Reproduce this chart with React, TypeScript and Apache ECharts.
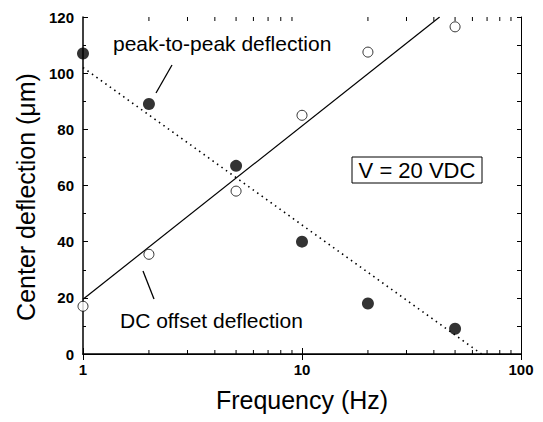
import React, { useEffect, useRef } from "react";
import * as echarts from "echarts";

const freqs = [1, 2, 5, 10, 20, 50];
const peakToPeak = [107, 89, 67, 40, 18, 9];
const dcOffset = [17, 35.5, 58, 85, 107.5, 116.5];
const peakFit = [[1, 102], [66, 0]];
const dcFit = [[1, 19.5], [42.5, 120]];
const minorFreqs = [2, 3, 4, 5, 6, 7, 8, 9, 20, 30, 40, 50, 60, 70, 80, 90];
const xTickLabels = ["1", "10", "100"];

const FONT = "'Liberation Sans', Arial, Helvetica, sans-serif";

export default function App() {
  const ref = useRef<HTMLDivElement>(null);
  useEffect(() => {
    if (!ref.current) return;
    const chart = echarts.init(ref.current, null, { renderer: "svg" });
    const option: any = {
      animation: false,
      backgroundColor: "#fff",
      grid: { left: 83, right: 22, top: 17, bottom: 68 },
      xAxis: [
        {
          type: "log",
          logBase: 10,
          min: 1,
          max: 100,
          position: "bottom",
          name: "Frequency (Hz)",
          nameLocation: "middle",
          nameGap: 33,
          nameTextStyle: { fontFamily: FONT, fontSize: 25, color: "#000" },
          axisLine: { lineStyle: { color: "#000", width: 1.5 } },
          axisTick: { inside: true, length: 6, lineStyle: { color: "#000" } },
          axisLabel: {
            fontFamily: FONT,
            fontSize: 15,
            fontWeight: "bold",
            color: "#000",
            margin: 8,
            formatter: (v: number) => {
              const i = Math.round(Math.log10(v));
              return xTickLabels[i] ?? "";
            },
          },
          splitLine: { show: false },
        },
        {
          type: "log",
          logBase: 10,
          min: 1,
          max: 100,
          position: "top",
          axisLine: { lineStyle: { color: "#000", width: 1 } },
          axisTick: { inside: true, length: 6, lineStyle: { color: "#000" } },
          axisLabel: { show: false },
          splitLine: { show: false },
        },
      ],
      yAxis: [
        {
          type: "value",
          min: 0,
          max: 120,
          interval: 20,
          position: "left",
          axisLine: { show: true, lineStyle: { color: "#000", width: 1.5 } },
          axisTick: { inside: true, length: 5, lineStyle: { color: "#000" } },
          minorTick: { show: true, splitNumber: 2, length: 3, lineStyle: { color: "#000" } },
          axisLabel: {
            fontFamily: FONT,
            fontSize: 15,
            fontWeight: "bold",
            color: "#000",
            margin: 9,
          },
          splitLine: { show: false },
        },
        {
          type: "value",
          min: 0,
          max: 120,
          interval: 10,
          position: "right",
          axisLine: { show: true, lineStyle: { color: "#000", width: 1 } },
          axisTick: { inside: true, length: 4, lineStyle: { color: "#000" } },
          axisLabel: { show: false },
          splitLine: { show: false },
        },
      ],
      series: [
        {
          type: "custom",
          silent: true,
          xAxisIndex: 0,
          yAxisIndex: 0,
          data: minorFreqs.map((f) => [f, 0]),
          renderItem: (params: any, api: any) => {
            const x = api.coord([api.value(0), 0])[0];
            const cs = params.coordSys;
            const bottom = cs.y + cs.height;
            return {
              type: "group",
              children: [
                {
                  type: "line",
                  shape: { x1: x, y1: bottom, x2: x, y2: bottom - 4 },
                  style: { stroke: "#000", lineWidth: 1 },
                },
                {
                  type: "line",
                  shape: { x1: x, y1: cs.y, x2: x, y2: cs.y + 4 },
                  style: { stroke: "#000", lineWidth: 1 },
                },
              ],
            };
          },
        },
        {
          type: "line",
          data: dcFit,
          symbol: "none",
          lineStyle: { color: "#000", width: 1.2 },
          z: 2,
        },
        {
          type: "line",
          data: peakFit,
          symbol: "none",
          lineStyle: { color: "#000", width: 1.6, type: [1.5, 4] },
          z: 2,
        },
        {
          type: "scatter",
          data: freqs.map((f, i) => [f, dcOffset[i]]),
          symbol: "circle",
          symbolSize: 10,
          itemStyle: { color: "#fff", borderColor: "#000", borderWidth: 1 },
          z: 3,
        },
        {
          type: "scatter",
          data: freqs.map((f, i) => [f, peakToPeak[i]]),
          symbol: "circle",
          symbolSize: 12,
          itemStyle: { color: "#000" },
          z: 3,
        },
      ],
      graphic: [
        {
          type: "text",
          x: 26,
          y: 197,
          rotation: Math.PI / 2,
          style: {
            text: "Center deflection (\u03bcm)",
            fontFamily: FONT,
            fontSize: 25,
            fill: "#000",
            align: "center",
            verticalAlign: "middle",
          },
        },
        {
          type: "text",
          left: 113,
          top: 33,
          style: { text: "peak-to-peak deflection", fontFamily: FONT, fontSize: 21, fill: "#000" },
        },
        {
          type: "line",
          shape: { x1: 172, y1: 65, x2: 156, y2: 93 },
          style: { stroke: "#000", lineWidth: 1.3 },
        },
        {
          type: "text",
          left: 120,
          top: 310,
          style: { text: "DC offset deflection", fontFamily: FONT, fontSize: 21, fill: "#000" },
        },
        {
          type: "line",
          shape: { x1: 143, y1: 271, x2: 154, y2: 299 },
          style: { stroke: "#000", lineWidth: 1.3 },
        },
        {
          type: "rect",
          shape: { x: 352, y: 157, width: 130, height: 26 },
          style: { fill: "#fff", stroke: "#000", lineWidth: 1 },
        },
        {
          type: "text",
          x: 417,
          y: 170,
          style: {
            text: "V = 20 VDC",
            fontFamily: FONT,
            fontSize: 22,
            fill: "#000",
            align: "center",
            verticalAlign: "middle",
          },
        },
      ],
    };
    chart.setOption(option);
    return () => chart.dispose();
  }, []);
  return (
    <div
      ref={ref}
      style={{ position: "fixed", left: 0, top: 0, width: 543, height: 422, background: "#fff" }}
    />
  );
}
